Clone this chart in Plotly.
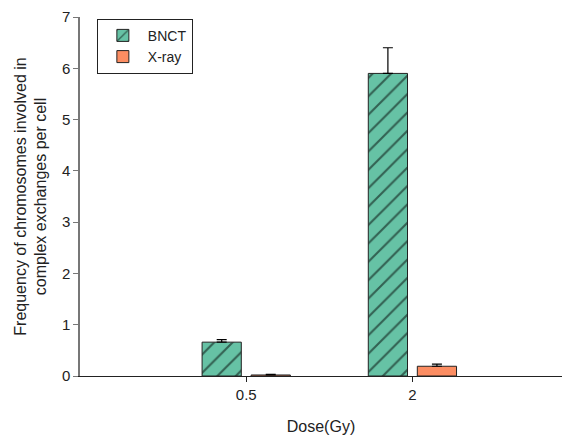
import plotly.graph_objects as go

doses = ["0.5", "2"]
bnct = [0.66, 5.90]
bnct_err = [0.05, 0.50]
xray = [0.02, 0.19]
xray_err = [0.01, 0.04]

fig = go.Figure()
fig.add_trace(go.Bar(
    x=doses, y=bnct, name="BNCT",
    marker=dict(color="#66C2A5", line=dict(color="#222222", width=1),
                pattern=dict(shape="/", fgcolor="#000000", size=13, solidity=0.16)),
    error_y=dict(type="data", array=bnct_err, arrayminus=[0, 0], symmetric=False,
                 color="black", thickness=1.2, width=5),
))
fig.add_trace(go.Bar(
    x=doses, y=xray, name="X-ray",
    marker=dict(color="#FC8D62", line=dict(color="#222222", width=1)),
    error_y=dict(type="data", array=xray_err, arrayminus=[0, 0], symmetric=False,
                 color="black", thickness=1.2, width=5),
))

fig.update_layout(
    width=568, height=438,
    margin=dict(l=80, r=6, t=17, b=62),
    plot_bgcolor="white", paper_bgcolor="white",
    barmode="group", bargap=0.41, bargroupgap=0.2,
    font=dict(family="Liberation Sans, Arial", size=15, color="#222222"),
    showlegend=True,
    legend=dict(x=0.035, y=0.995, xanchor="left", yanchor="top",
                bordercolor="#222222", borderwidth=1, bgcolor="white",
                font=dict(size=14), itemwidth=40, tracegroupgap=0),
    xaxis=dict(range=[-1.0, 1.9], showline=True, linecolor="#222222", linewidth=1,
               ticks="outside", ticklen=5, tickcolor="#222222", showgrid=False,
               title=dict(text="Dose(Gy)", font=dict(size=16), standoff=18)),
    yaxis=dict(range=[0, 7], dtick=1, showline=True, linecolor="#777777", linewidth=1.5,
               ticks="outside", ticklen=5, tickcolor="#777777", showgrid=False, zeroline=False,
               title=dict(text="Frequency of chromosomes involved in<br>complex exchanges per cell",
                          font=dict(size=16), standoff=11)),
)

fig.write_html("out.html")
